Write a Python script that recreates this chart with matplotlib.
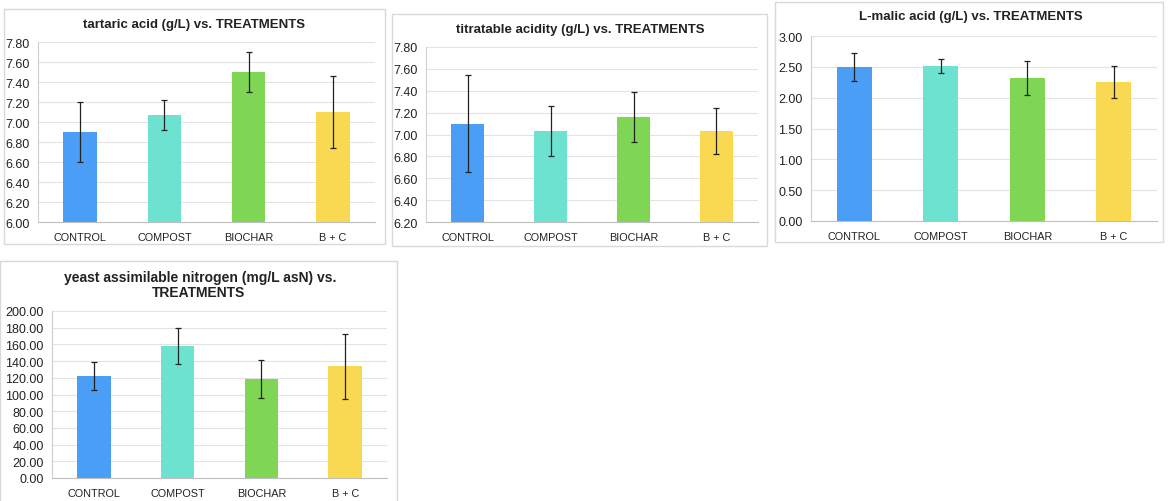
import matplotlib.pyplot as plt
from matplotlib.patches import Rectangle
import numpy as np

plt.rcParams['font.family'] = ['Liberation Sans', 'DejaVu Sans']

treatments = ['CONTROL', 'COMPOST', 'BIOCHAR', 'B + C']
colors = ['#4a9ef5', '#6ee2d0', '#7fd655', '#f9d852']

tartaric = [6.90, 7.07, 7.50, 7.10]
tartaric_err = [0.30, 0.15, 0.20, 0.36]

titratable = [7.10, 7.03, 7.16, 7.03]
titratable_err = [0.44, 0.23, 0.23, 0.21]

malic = [2.50, 2.51, 2.32, 2.26]
malic_err = [0.23, 0.11, 0.27, 0.26]

yan = [122.5, 158.5, 118.5, 134.0]
yan_err = [17.0, 21.5, 22.7, 38.8]

W, H = 1170, 502
fig = plt.figure(figsize=(W / 100, H / 100), dpi=100)


def px_axes(x0, y0, x1, y1):
    # pixel box (top-left origin) -> figure fraction
    return fig.add_axes([x0 / W, 1 - y1 / H, (x1 - x0) / W, (y1 - y0) / H])


def border(x0, y0, x1, y1):
    fig.patches.append(Rectangle((x0 / W, 1 - y1 / H), (x1 - x0) / W, (y1 - y0) / H,
                                 transform=fig.transFigure, fill=False,
                                 edgecolor='#d9d9d9', linewidth=1.0))


def title(txt, x, y, size=9.5):
    fig.text(x / W, 1 - y / H, txt, ha='center', va='center',
             fontsize=size, fontweight='bold', color='#222222')


def panel(box, vals, errs, ylim, step):
    ax = px_axes(*box)
    x = np.arange(len(treatments))
    ax.bar(x, vals, width=0.4, color=colors, zorder=2)
    ax.errorbar(x, vals, yerr=errs, fmt='none', ecolor='#222222',
                elinewidth=0.9, capsize=2.2, capthick=0.9, zorder=3)
    ax.set_xlim(-0.5, len(treatments) - 0.5)
    ax.set_ylim(*ylim)
    ax.set_yticks(np.arange(ylim[0], ylim[1] + step / 2, step))
    ax.yaxis.set_major_formatter(plt.FormatStrFormatter('%.2f'))
    ax.set_xticks(x)
    ax.set_xticklabels(treatments)
    ax.tick_params(axis='both', length=0, colors='#222222')
    ax.tick_params(axis='y', pad=6, labelsize=9)
    ax.tick_params(axis='x', pad=7, labelsize=7.8)
    ax.grid(axis='y', color='#e3e3e3', linewidth=0.8, zorder=0)
    for s in ['top', 'right']:
        ax.spines[s].set_visible(False)
    ax.spines['left'].set_color('#d0d0d0')
    ax.spines['bottom'].set_color('#bfbfbf')
    return ax


border(4, 10, 385, 245)
panel((38, 43, 375, 223), tartaric, tartaric_err, (6.0, 7.8), 0.2)
title('tartaric acid (g/L) vs. TREATMENTS', 194, 25)

border(392, 15, 767, 247)
panel((426, 48, 758, 223), titratable, titratable_err, (6.2, 7.8), 0.2)
title('titratable acidity (g/L) vs. TREATMENTS', 580, 30)

border(775, 3, 1163, 243)
panel((811, 37, 1157, 222), malic, malic_err, (0.0, 3.0), 0.5)
title('L-malic acid (g/L) vs. TREATMENTS', 971, 17)

border(0, 262, 397, 505)
panel((52, 312, 387, 479), yan, yan_err, (0.0, 200.0), 20.0)
title('yeast assimilable nitrogen (mg/L asN) vs.', 200, 278, 10)
title('TREATMENTS', 199, 293, 10)

fig.savefig('out.png', dpi=100)
